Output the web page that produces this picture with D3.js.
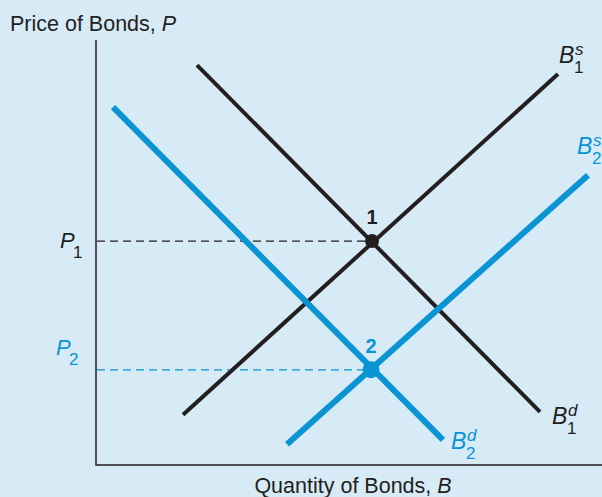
<!DOCTYPE html>
<html>
<head>
<meta charset="utf-8">
<script src="https://cdn.jsdelivr.net/npm/d3@7"></script>
<style>
body { margin: 0; background: #d7ebf6; }
svg { display: block; font-family: "Liberation Sans", Arial, sans-serif; }
</style>
</head>
<body>
<svg id="chart"></svg>
<script>
var width = 602, height = 497;
var black = "#231f20", blue = "#0a94d3";

// curves: [quantity, price] endpoints (arbitrary units 0..100)
var supply1 = [[17.4, 11.8], [92.4, 92.0]];
var demand1 = [[20.2, 94.1], [88.8, 12.5]];
var demand2 = [[3.4, 84.2], [69.4, 5.9]];
var supply2 = [[38.2, 4.9], [98.4, 68.2]];
var equilibria = [
  {name: "1", q: 55.2, p: 52.7, color: black, r: 7},
  {name: "2", q: 55.0, p: 22.4, color: blue, r: 8.5}
];
var priceLabels = [["P", "1"], ["P", "2"]];
var curveNames = [["s", "1"], ["s", "2"], ["d", "1"], ["d", "2"]];

var svg = d3.select("#chart").attr("width", width).attr("height", height);

var x = d3.scaleLinear().domain([0, 100]).range([96, 596]);
var y = d3.scaleLinear().domain([0, 100]).range([465, 40]);

svg.append("rect").attr("width", width).attr("height", height).attr("fill", "#d7ebf6");

// axes
svg.append("path")
   .attr("d", "M" + x(0) + "," + y(100) + "V" + y(0) + "H" + width)
   .attr("fill", "none").attr("stroke", black).attr("stroke-width", 1.5);

// dashed guides
equilibria.forEach(function(e){
  svg.append("line")
     .attr("x1", x(0) + 1).attr("x2", x(e.q))
     .attr("y1", y(e.p)).attr("y2", y(e.p))
     .attr("stroke", e.color).attr("stroke-width", 1.2)
     .attr("stroke-dasharray", "8,5");
});

var line = d3.line().x(function(d){ return x(d[0]); }).y(function(d){ return y(d[1]); });

var curves = [
  {pts: supply1, color: black, w: 4},
  {pts: demand1, color: black, w: 4},
  {pts: demand2, color: blue, w: 6},
  {pts: supply2, color: blue, w: 6}
];
svg.selectAll("path.curve").data(curves).enter().append("path")
   .attr("class", "curve")
   .attr("d", function(d){ return line(d.pts); })
   .attr("stroke", function(d){ return d.color; })
   .attr("stroke-width", function(d){ return d.w; })
   .attr("fill", "none");

svg.selectAll("circle.eq").data(equilibria).enter().append("circle")
   .attr("cx", function(d){ return x(d.q); })
   .attr("cy", function(d){ return y(d.p); })
   .attr("r", function(d){ return d.r; })
   .attr("fill", function(d){ return d.color; });

svg.selectAll("text.eq").data(equilibria).enter().append("text")
   .attr("x", function(d){ return x(d.q); })
   .attr("y", function(d){ return y(d.p) - 17; })
   .attr("text-anchor", "middle")
   .attr("font-size", 20).attr("font-weight", "bold")
   .attr("fill", function(d){ return d.color; })
   .text(function(d){ return d.name; });

// axis titles
var t1 = svg.append("text").attr("x", 10).attr("y", 31).attr("font-size", 21.5).attr("fill", black);
t1.append("tspan").text("Price of Bonds, ");
t1.append("tspan").attr("font-style", "italic").text("P");

var t2 = svg.append("text").attr("x", 353).attr("y", 493).attr("text-anchor", "middle").attr("font-size", 21.5).attr("fill", black);
t2.append("tspan").text("Quantity of Bonds, ");
t2.append("tspan").attr("font-style", "italic").text("B");

// price labels
function priceLabel(lbl, px, py, color) {
  var g = svg.append("g").attr("fill", color);
  g.append("text").attr("x", px).attr("y", py).attr("font-size", 22).attr("font-style", "italic").text(lbl[0]);
  g.append("text").attr("x", px + 13).attr("y", py + 10).attr("font-size", 17).text(lbl[1]);
}
priceLabel(priceLabels[0], 60, y(equilibria[0].p) + 7, black);
priceLabel(priceLabels[1], 56, y(equilibria[1].p) - 15, blue);

// curve labels
function curveLabel(px, py, nm, color) {
  var g = svg.append("g").attr("fill", color);
  g.append("text").attr("x", px).attr("y", py).attr("font-size", 23).attr("font-style", "italic").text("B");
  g.append("text").attr("x", px + 16).attr("y", py - 8).attr("font-size", 17).attr("font-style", "italic").text(nm[0]);
  g.append("text").attr("x", px + 15).attr("y", py + 10).attr("font-size", 17).text(nm[1]);
}
curveLabel(x(92.4) + 1, y(92.0) - 11, curveNames[0], black);
curveLabel(x(98.4) - 11, y(68.2) - 21, curveNames[1], blue);
curveLabel(x(88.8) + 12, y(12.5) + 12, curveNames[2], black);
curveLabel(x(69.4) + 8, y(5.9) + 9, curveNames[3], blue);
</script>
</body>
</html>
